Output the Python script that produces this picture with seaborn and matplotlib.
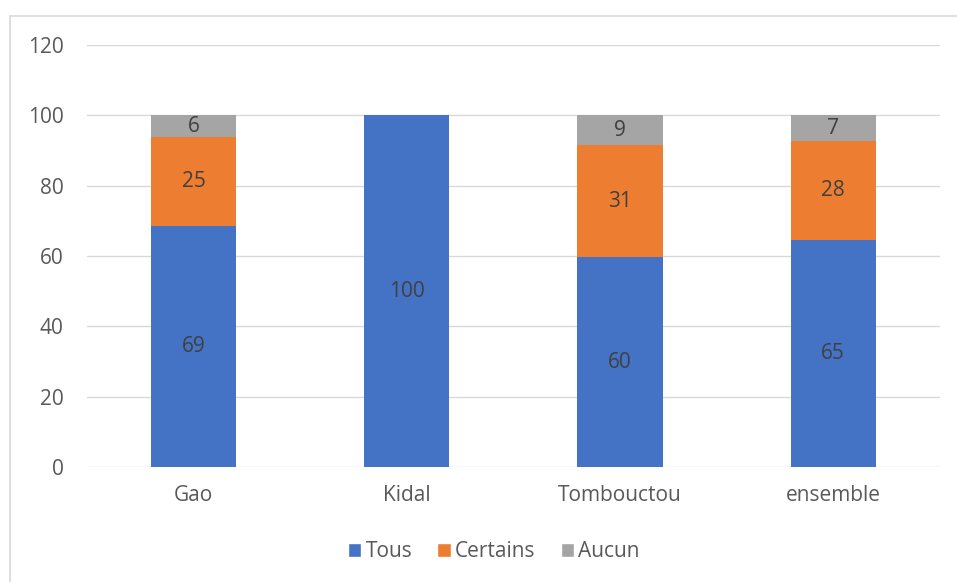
import numpy as np
import pandas as pd
import matplotlib
matplotlib.use("Agg")
import matplotlib.pyplot as plt
from matplotlib.patches import Rectangle, Patch
import seaborn as sns

# Données
regions = ["Gao", "Kidal", "Tombouctou", "ensemble"]
tous = [68.6, 100, 59.7, 64.6]
certains = [25.2, 0, 31.8, 28.0]
aucun = [6.2, 0, 8.5, 7.4]
series = ["Tous", "Certains", "Aucun"]
couleurs = ["#4472C4", "#ED7D31", "#A5A5A5"]
yticks = [0, 20, 40, 60, 80, 100, 120]

# Étiquettes affichées (valeurs arrondies du tableau source)
etiquettes = {
    "Tous": [69, 100, 60, 65],
    "Certains": [25, 0, 31, 28],
    "Aucun": [6, 0, 9, 7],
}

sns.set_theme(style="white")
plt.rcParams['font.family'] = ['Open Sans', 'DejaVu Sans']

df = pd.DataFrame({"region": regions, "Tous": tous, "Certains": certains, "Aucun": aucun})
df["cum_tous"] = df["Tous"]
df["cum_certains"] = df["Tous"] + df["Certains"]
df["cum_aucun"] = df["cum_certains"] + df["Aucun"]

fig = plt.figure(figsize=(9.57, 5.82), dpi=100)
ax = fig.add_axes([0.0909, 0.1976, 0.8911, 0.7251])

# Empilement par superposition des cumuls
for col, c in [("cum_aucun", couleurs[2]), ("cum_certains", couleurs[1]), ("cum_tous", couleurs[0])]:
    sns.barplot(data=df, x="region", y=col, color=c, width=0.4, ax=ax,
                saturation=1, linewidth=0, zorder=3)

# Étiquettes des valeurs
for i, r in df.iterrows():
    bas = 0
    for s in series:
        v = r[s]
        if v > 0:
            ax.text(i, bas + v / 2, str(etiquettes[s][i]), ha="center", va="center",
                    fontsize=15, color="#404040", zorder=4)
        bas += v

ax.set_ylim(0, 120)
ax.set_xlim(-0.5, 3.5)
ax.set_yticks(yticks)
ax.yaxis.grid(True, color="#D9D9D9", linewidth=1)
ax.set_axisbelow(True)
for sp in ax.spines.values():
    sp.set_visible(False)
ax.set_xlabel("")
ax.set_ylabel("")
ax.tick_params(axis="both", length=0, labelsize=15, labelcolor="#595959")
ax.tick_params(axis="y", pad=17)
ax.tick_params(axis="x", pad=13)

handles = [Patch(facecolor=c, label=s) for s, c in zip(series, couleurs)]
fig.legend(handles=handles, loc="center", bbox_to_anchor=(0.516, 0.052), ncol=3,
           frameon=False, fontsize=15, handlelength=0.65, handleheight=0.65,
           handletextpad=0.2, columnspacing=1.2, labelcolor="#595959")

# Cadre du graphique
fig.patches.append(Rectangle((10 / 957, -0.01), 1.0, 1 - 16 / 582 + 0.01,
                             transform=fig.transFigure, fill=False,
                             edgecolor="#D9D9D9", linewidth=1.2))

fig.savefig("out.png", dpi=100)
